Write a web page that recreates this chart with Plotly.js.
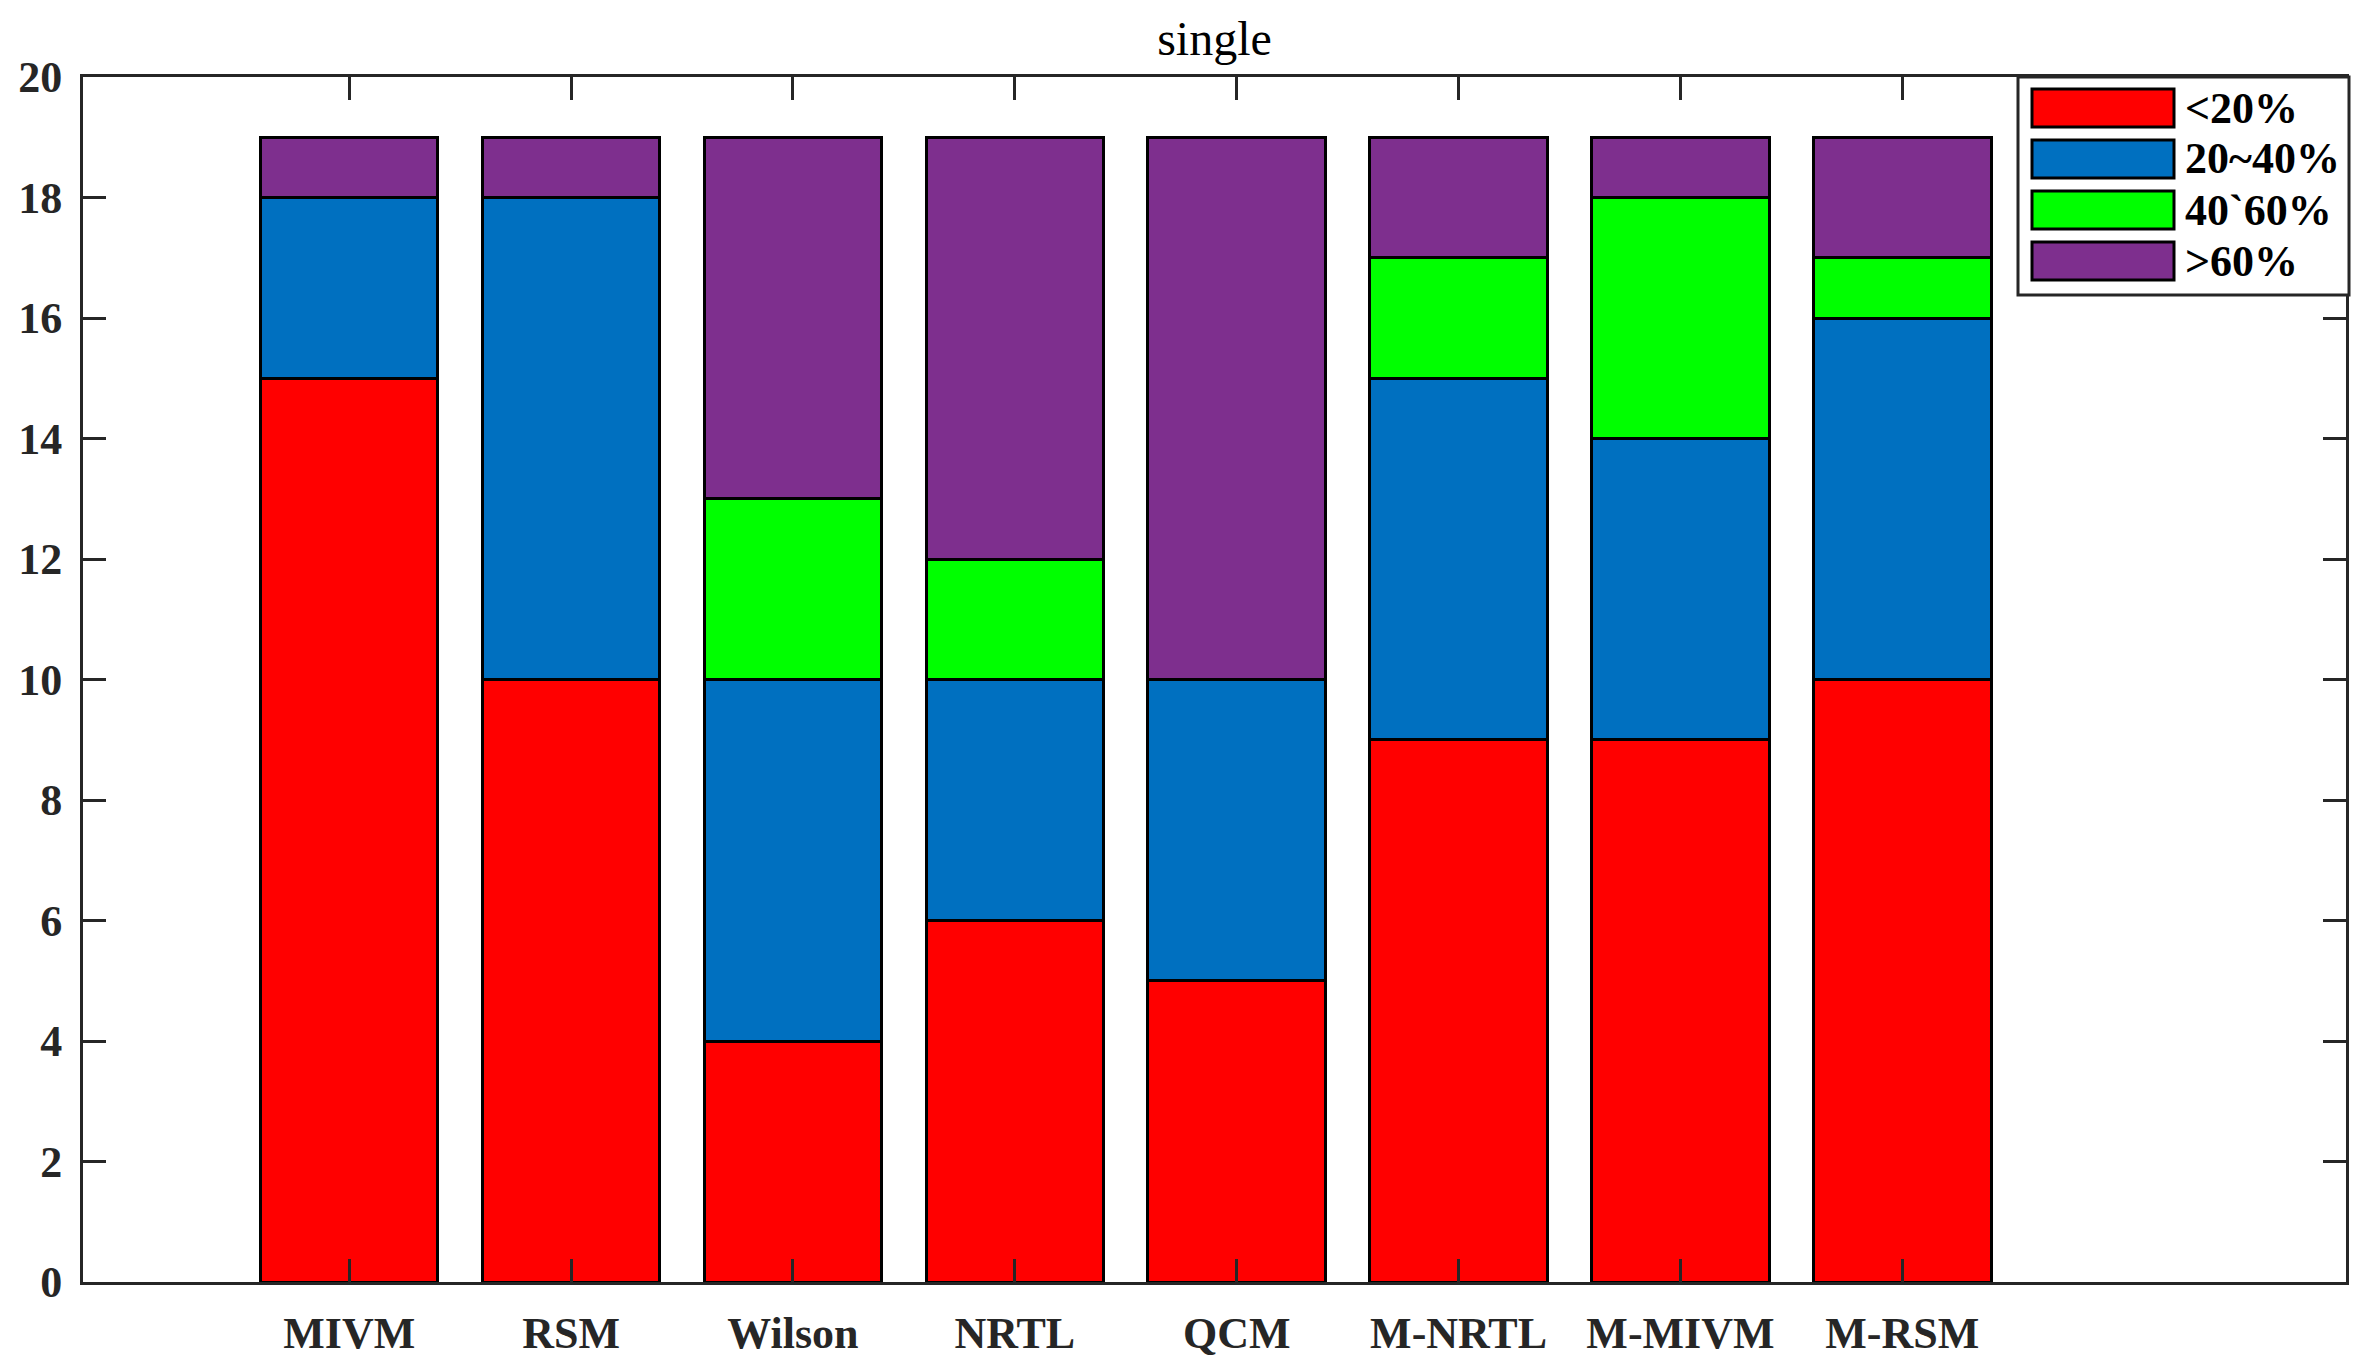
<!DOCTYPE html>
<html>
<head>
<meta charset="utf-8">
<script src="https://cdn.plot.ly/plotly-3.0.1.min.js"></script>
<style>
  html, body { margin: 0; padding: 0; background: #fff; }
  #chart { width: 2371px; height: 1371px; }
</style>
</head>
<body>
<div id="chart"></div>
<script>
// models on the x axis
const models = ['MIVM', 'RSM', 'Wilson', 'NRTL', 'QCM', 'M-NRTL', 'M-MIVM', 'M-RSM'];

// counts per error band, stacked bottom to top
const below20 = [15, 10, 4, 6, 5, 9, 9, 10];
const from20to40 = [3, 8, 6, 4, 5, 6, 5, 6];
const from40to60 = [0, 0, 3, 2, 0, 2, 4, 1];
const above60 = [1, 1, 6, 7, 9, 2, 1, 2];

const seriesNames = ['<20%', '20~40%', '40`60%', '>60%'];
const seriesColors = ['#FF0000', '#0070C0', '#00FF00', '#7E2F8E'];
const seriesValues = [below20, from20to40, from40to60, above60];

const yTicks = [0, 2, 4, 6, 8, 10, 12, 14, 16, 18, 20];

const W = 2371, H = 1371;
const plotL = 83, plotR = 2346, plotT = 77, plotB = 1282;
const axisColor = '#262626';
const serif = 'Liberation Serif, Times New Roman, serif';

let data = seriesValues.map(function (vals, i) {
    return {
        type: 'bar',
        x: models,
        y: vals,
        name: seriesNames[i],
        width: 0.8,
        marker: { color: seriesColors[i], line: { color: '#000000', width: 3 } },
        showlegend: false,
        hoverinfo: 'x+y+name'
    };
});

// hand-built legend box, MATLAB style, in pixel terms turned into paper coords
function px(x) { return (x - plotL) / (plotR - plotL); }
function py(y) { return (plotB - y) / (plotB - plotT); }

let shapes = [{
    type: 'rect', xref: 'paper', yref: 'paper', layer: 'above',
    x0: px(2018), x1: px(2349), y0: py(295), y1: py(77),
    fillcolor: '#ffffff', line: { color: axisColor, width: 3 }
}];
let annotations = [];
seriesNames.forEach(function (name, i) {
    let top = 89 + i * 51;
    shapes.push({
        type: 'rect', xref: 'paper', yref: 'paper', layer: 'above',
        x0: px(2032), x1: px(2174), y0: py(top + 38), y1: py(top),
        fillcolor: seriesColors[i], line: { color: '#000000', width: 3 }
    });
    annotations.push({
        xref: 'paper', yref: 'paper', x: px(2183), y: py(top + 19),
        xanchor: 'left', yanchor: 'middle', showarrow: false,
        text: name,
        font: { family: serif, size: 44, color: '#000000', weight: 'bold' }
    });
});

let layout = {
    width: W,
    height: H,
    margin: { l: plotL, r: W - plotR, t: plotT, b: H - plotB },
    paper_bgcolor: '#ffffff',
    plot_bgcolor: '#ffffff',
    barmode: 'stack',
    showlegend: false,
    title: {
        text: 'single',
        font: { family: serif, size: 48, color: '#000000' },
        x: 0.5, xref: 'paper', xanchor: 'center',
        y: 1 - 38 / H, yref: 'container', yanchor: 'middle'
    },
    xaxis: {
        type: 'category',
        range: [-1.2, 9.0],
        showline: true, linecolor: axisColor, linewidth: 3, mirror: 'ticks',
        ticks: 'inside', ticklen: 23, tickwidth: 3, tickcolor: axisColor,
        showgrid: false, zeroline: false,
        tickfont: { family: serif, size: 44, color: axisColor, weight: 'bold' },
        ticklabelstandoff: 10
    },
    yaxis: {
        range: [0, 20],
        tickvals: yTicks,
        showline: true, linecolor: axisColor, linewidth: 3, mirror: 'ticks',
        ticks: 'inside', ticklen: 23, tickwidth: 3, tickcolor: axisColor,
        showgrid: false, zeroline: false,
        tickfont: { family: serif, size: 44, color: axisColor, weight: 'bold' },
        ticklabelstandoff: 9
    },
    shapes: shapes,
    annotations: annotations
};

Plotly.newPlot('chart', data, layout, { staticPlot: true });
</script>
</body>
</html>
